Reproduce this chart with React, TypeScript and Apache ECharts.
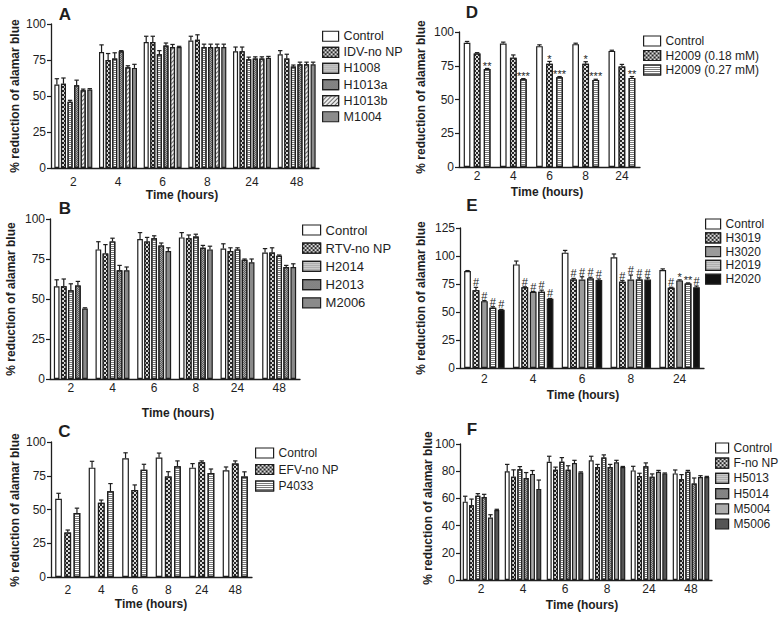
import React, { useEffect, useRef } from 'react';
import * as echarts from 'echarts';

// ---------------- Data ----------------
const hoursSix = ['2', '4', '6', '8', '24', '48'];
const hoursFive = ['2', '4', '6', '8', '24'];

// Panel A
const namesA = ['Control', 'IDV-no NP', 'H1008', 'H1013a', 'H1013b', 'M1004'];
const meanA = [
  [58, 80.5, 87.5, 88.5, 81, 79],
  [58.5, 75, 87.5, 89, 81, 76],
  [46, 76, 79, 84, 75.5, 70.5],
  [57.5, 81, 85, 84, 76, 72],
  [54, 70, 84, 84, 76, 72],
  [54.5, 69.5, 84, 84, 76.5, 72],
];
const errA = [
  [4, 5, 4, 3, 3, 2.5],
  [4, 4.5, 4, 3.5, 3, 3],
  [1, 4, 2.5, 2, 1.5, 1],
  [3.5, 0.5, 1.8, 2, 1.2, 1.5],
  [0.8, 1, 1.8, 2, 1.2, 1.5],
  [0.6, 2.5, 0.5, 2, 1, 1.5],
];

// Panel B
const namesB = ['Control', 'RTV-no NP', 'H2014', 'H2013', 'M2006'];
const meanB = [
  [58, 81, 87.5, 88.5, 81.5, 79],
  [58, 78.5, 86, 88, 80, 79],
  [55.5, 86, 88, 89, 81, 77],
  [58.5, 68, 83.5, 82, 74.5, 70],
  [44, 68, 80, 81, 73, 70],
];
const errB = [
  [4, 4.8, 4, 3, 3, 2.5],
  [4.5, 5.5, 2.5, 2, 2, 3],
  [4, 2, 1.5, 1.5, 1, 0.5],
  [2.5, 3, 1.5, 1.5, 0.5, 1],
  [0.5, 2, 2, 2, 2, 2],
];

// Panel C
const namesC = ['Control', 'EFV-no NP', 'P4033'];
const meanC = [
  [58, 81, 88, 88.5, 81, 79],
  [33, 55, 64.5, 74.5, 85, 84],
  [47.5, 63.5, 79.5, 82, 77, 74.5],
];
const errC = [
  [4, 4.7, 4, 3.3, 3, 2.5],
  [1.8, 2, 3.7, 3.5, 1, 2],
  [3.5, 5.7, 4, 4, 3, 3.4],
];

// Panel D
const namesD = ['Control', 'H2009 (0.18 mM)', 'H2009 (0.27 mM)'];
const meanD = [
  [92, 91.5, 89.5, 91, 86],
  [84, 81, 76.5, 76.5, 74.5],
  [72.5, 65, 66.5, 64.5, 66],
];
const errD = [
  [1, 1, 1, 0.7, 0.5],
  [0.7, 2, 1.7, 1.5, 1.5],
  [0.5, 0.5, 0.5, 0.5, 1],
];
const annD = [
  ['', '', '', '', ''],
  ['', '', '*', '*', ''],
  ['**', '***', '***', '***', '**'],
];

// Panel E
const namesE = ['Control', 'H3019', 'H3020', 'H2019', 'H2020'];
const meanE = [
  [86.5, 92.5, 103, 98.8, 87.5],
  [69.5, 72, 79, 77, 71.6],
  [59.7, 68, 79, 79, 78.2],
  [53.7, 68, 80, 79, 75.5],
  [52, 61.8, 78.5, 79, 72.2],
];
const errE = [
  [0.5, 3, 2, 3, 1],
  [2.5, 0.5, 1, 1, 0.5],
  [0.5, 0.3, 2.5, 4, 0.5],
  [1, 1.5, 1, 1.5, 0.5],
  [0.3, 0.3, 1, 1.5, 1],
];
const annE = [
  ['', '', '', '', ''],
  ['#', '#', '#', '#', '#'],
  ['#', '#', '#', '#', '*'],
  ['#', '#', '#', '#', '**'],
  ['#', '#', '#', '#', '#'],
];

// Panel F
const namesF = ['Control', 'F-no NP', 'H5013', 'H5014', 'M5004', 'M5006'];
const meanF = [
  [57.6, 80, 87, 88, 80.6, 78.4],
  [55, 76, 81, 83, 76.5, 74],
  [62, 81.4, 87, 90, 83.6, 79.6],
  [61, 75, 81, 83, 76, 71],
  [46, 78, 86, 86.5, 79.6, 75.7],
  [51.5, 67, 79, 83, 78.4, 75.7],
];
const errF = [
  [4, 5, 4, 3, 3, 2.5],
  [4.5, 5, 2, 2, 2, 3.5],
  [1.5, 2, 3, 2, 2.5, 1],
  [2, 4, 3, 2, 2, 4],
  [2, 2.5, 2, 1.5, 1, 1],
  [0.5, 6.5, 0.5, 0.5, 0.3, 0.5],
];

// ---------------- Styles ----------------
const INK = '#1e1e1e';
const FONT = 'Liberation Sans, Arial, Helvetica, sans-serif';

const S_WHITE = { color: '#ffffff' };
const S_CHECK = {
  color: '#262626',
  decal: {
    symbol: 'rect', symbolSize: 0.9, color: '#f2f2f2',
    dashArrayX: [[2, 2], [0, 2, 2, 0]], dashArrayY: [2, 0], rotation: 0,
  },
};
const S_HLINE = {
  color: '#ffffff',
  decal: { symbol: 'rect', symbolSize: 1, color: '#7a7a7a', dashArrayX: [1, 0], dashArrayY: [1, 1], rotation: 0 },
};
const S_XHATCH = {
  color: '#a8a8a8',
  decal: {
    symbol: 'rect', symbolSize: 1, color: '#5e5e5e',
    dashArrayX: [[1, 1], [0, 1, 1, 0]], dashArrayY: [1, 0], rotation: 0,
  },
};
const S_DIAG = {
  color: '#eeeeee',
  decal: { symbol: 'rect', symbolSize: 1, color: '#6a6a6a', dashArrayX: [1, 0], dashArrayY: [1, 2], rotation: -Math.PI / 4 },
};
const solid = (c: string) => ({ color: c });

type Panel = {
  names: string[]; cats: string[]; mean: number[][]; err: number[][]; ann: string[][] | null;
  grid: { left: number; top: number; width: number; height: number };
  yMax: number; yStep: number; styles: any[]; cGap: number; bGap: number;
  legend: { left: number; top: number; itemWidth: number; gap: number; font: number };
  xMargin: number; letter: [string, number, number]; yTitle: [number, number]; xTitle: [number, number];
};

const PANELS: Panel[] = [
  {
    names: namesA, cats: hoursSix, mean: meanA, err: errA, ann: null,
    grid: { left: 51, top: 24, width: 268, height: 144 }, yMax: 100, yStep: 25,
    styles: [S_WHITE, S_CHECK, S_HLINE, S_XHATCH, S_DIAG, solid('#8c8c8c')], cGap: 0.15, bGap: 0.3,
    legend: { left: 322, top: 29.75, itemWidth: 16, gap: 3.1, font: 12.5 },
    xMargin: 8, letter: ['A', 65, 14], yTitle: [15, 96], xTitle: [182, 195],
  },
  {
    names: namesB, cats: hoursSix, mean: meanB, err: errB, ann: null,
    grid: { left: 50, top: 219, width: 250, height: 160 }, yMax: 100, yStep: 25,
    styles: [S_WHITE, S_CHECK, S_HLINE, S_XHATCH, solid('#8a8a8a')], cGap: 0.185, bGap: 0.24,
    legend: { left: 302, top: 223.5, itemWidth: 18, gap: 5.2, font: 13 },
    xMargin: 3, letter: ['B', 65, 208], yTitle: [11, 299], xTitle: [178, 413],
  },
  {
    names: namesC, cats: hoursSix, mean: meanC, err: errC, ann: null,
    grid: { left: 51, top: 442, width: 201, height: 135 }, yMax: 100, yStep: 25,
    styles: [S_WHITE, S_CHECK, S_HLINE], cGap: 0.25, bGap: 0.37,
    legend: { left: 255, top: 447, itemWidth: 18, gap: 4.5, font: 12 },
    xMargin: 7, letter: ['C', 64.5, 431], yTitle: [15, 510], xTitle: [151, 604],
  },
  {
    names: namesD, cats: hoursFive, mean: meanD, err: errD, ann: annD,
    grid: { left: 459, top: 32, width: 181, height: 135 }, yMax: 100, yStep: 25,
    styles: [S_WHITE, S_CHECK, S_HLINE], cGap: 0.26, bGap: 0.5,
    legend: { left: 643, top: 35, itemWidth: 17, gap: 2.5, font: 12 },
    xMargin: 3, letter: ['D', 472, 12.5], yTitle: [421, 97], xTitle: [547, 192],
  },
  {
    names: namesE, cats: hoursFive, mean: meanE, err: errE, ann: annE,
    grid: { left: 460, top: 228, width: 244, height: 140 }, yMax: 125, yStep: 25,
    styles: [S_WHITE, S_CHECK, solid('#9a9a9a'), S_HLINE, solid('#111111')], cGap: 0.17, bGap: 0.25,
    legend: { left: 705, top: 218, itemWidth: 15, gap: 1.8, font: 12 },
    xMargin: 5, letter: ['E', 472, 205], yTitle: [421, 298], xTitle: [583, 395],
  },
  {
    names: namesF, cats: hoursSix, mean: meanF, err: errF, ann: null,
    grid: { left: 460, top: 444, width: 252, height: 136 }, yMax: 100, yStep: 20,
    styles: [S_WHITE, S_CHECK, S_HLINE, S_XHATCH, solid('#acacac'), solid('#555555')], cGap: 0.13, bGap: 0.27,
    legend: { left: 715, top: 442, itemWidth: 13, gap: 3.2, font: 12 },
    xMargin: 3, letter: ['F', 472, 429], yTitle: [428, 508], xTitle: [582, 605],
  },
];

function buildOption() {
  const grid: any[] = [];
  const xAxis: any[] = [];
  const yAxis: any[] = [];
  const series: any[] = [];
  const legend: any[] = [];
  const graphic: any[] = [];

  PANELS.forEach((p, pi) => {
    grid.push({ ...p.grid, containLabel: false });
    xAxis.push({
      type: 'category', gridIndex: pi, data: p.cats,
      axisLine: { lineStyle: { color: INK, width: 1.3 } },
      axisTick: { alignWithLabel: true, length: 3, lineStyle: { color: INK, width: 1.2 } },
      axisLabel: { color: INK, fontSize: 12, fontFamily: FONT, margin: p.xMargin, interval: 0 },
    });
    yAxis.push({
      type: 'value', gridIndex: pi, min: 0, max: p.yMax, interval: p.yStep,
      axisLine: { show: true, lineStyle: { color: INK, width: 1.3 } },
      axisTick: { show: true, length: 4, lineStyle: { color: INK, width: 1.2 } },
      axisLabel: { color: INK, fontSize: 12, fontFamily: FONT, margin: 5 },
      splitLine: { show: false },
    });

    const n = p.names.length;
    p.names.forEach((name, si) => {
      series.push({
        type: 'bar', name, xAxisIndex: pi, yAxisIndex: pi,
        data: p.mean[si],
        barGap: `${p.bGap * 100}%`, barCategoryGap: `${p.cGap * 100}%`,
        itemStyle: { ...p.styles[si], borderColor: INK, borderWidth: 1.2 },
        emphasis: { disabled: true }, silent: true,
      });
    });

    const errData: number[][] = [];
    for (let si = 0; si < n; si++) {
      for (let k = 0; k < p.cats.length; k++) {
        errData.push([k, si, p.mean[si][k], p.err[si][k]]);
      }
    }
    const band = p.grid.width / p.cats.length;
    const avail = band * (1 - p.cGap);
    const w = avail / (n + (n - 1) * p.bGap);
    const ann = p.ann;
    series.push({
      type: 'custom', xAxisIndex: pi, yAxisIndex: pi, silent: true, z: 5,
      itemStyle: { color: INK },
      encode: { x: 0, y: 2 },
      data: errData,
      renderItem: (params: any, api: any) => {
        const k = api.value(0);
        const si = api.value(1);
        const v = api.value(2);
        const e = api.value(3);
        const cx = api.coord([k, 0])[0] - avail / 2 + si * w * (1 + p.bGap) + w / 2;
        const yv = api.coord([k, v])[1];
        const yt = api.coord([k, v + e])[1];
        const children: any[] = [];
        if (e > 0) {
          children.push({ type: 'line', shape: { x1: cx, y1: yv, x2: cx, y2: yt }, style: { stroke: INK, lineWidth: 1.2 } });
          children.push({ type: 'line', shape: { x1: cx - 2.2, y1: yt, x2: cx + 2.2, y2: yt }, style: { stroke: INK, lineWidth: 1.2 } });
        }
        const a = ann ? ann[si][k] : '';
        if (a) {
          const isStar = a.indexOf('*') >= 0;
          children.push({
            type: 'text', x: cx, y: isStar ? yt + 2.6 : yt + 0.5,
            style: {
              text: a, fill: INK, textFill: INK, fontSize: 11, fontFamily: FONT,
              align: 'center', verticalAlign: 'bottom', textAlign: 'center', textVerticalAlign: 'bottom',
            },
          });
        }
        return { type: 'group', children };
      },
    });

    legend.push({
      orient: 'vertical', left: p.legend.left, top: p.legend.top, padding: 0,
      itemWidth: p.legend.itemWidth, itemHeight: 10, itemGap: p.legend.gap,
      icon: 'rect', selectedMode: false, data: p.names,
      textStyle: { fontSize: p.legend.font, color: INK, fontFamily: FONT },
      itemStyle: { borderColor: INK, borderWidth: 1.2 },
    });

    const txt = (text: string, x: number, y: number, size: number, bold: boolean, rot = 0) => ({
      type: 'text', x, y, rotation: rot, silent: true,
      style: {
        text, fill: INK, fontSize: size, fontWeight: bold ? 'bold' : 'normal', fontFamily: FONT,
        align: 'center', verticalAlign: 'middle', textAlign: 'center', textVerticalAlign: 'middle',
      },
    });
    graphic.push(txt(p.letter[0], p.letter[1], p.letter[2], 17, true));
    graphic.push(txt('% reduction of alamar blue', p.yTitle[0], p.yTitle[1], 12, true, Math.PI / 2));
    graphic.push(txt('Time (hours)', p.xTitle[0], p.xTitle[1], 12, true));
  });

  return {
    animation: false,
    backgroundColor: '#ffffff',
    textStyle: { fontFamily: FONT },
    grid, xAxis, yAxis, series, legend, graphic,
  };
}

export default function App() {
  const ref = useRef<HTMLDivElement>(null);
  useEffect(() => {
    if (!ref.current) return;
    const chart = echarts.init(ref.current, undefined, { renderer: 'svg' });
    chart.setOption(buildOption() as any);
    return () => chart.dispose();
  }, []);
  return (
    <div
      ref={ref}
      style={{ position: 'absolute', left: 0, top: 0, width: 781, height: 617, background: '#fff' }}
    />
  );
}
